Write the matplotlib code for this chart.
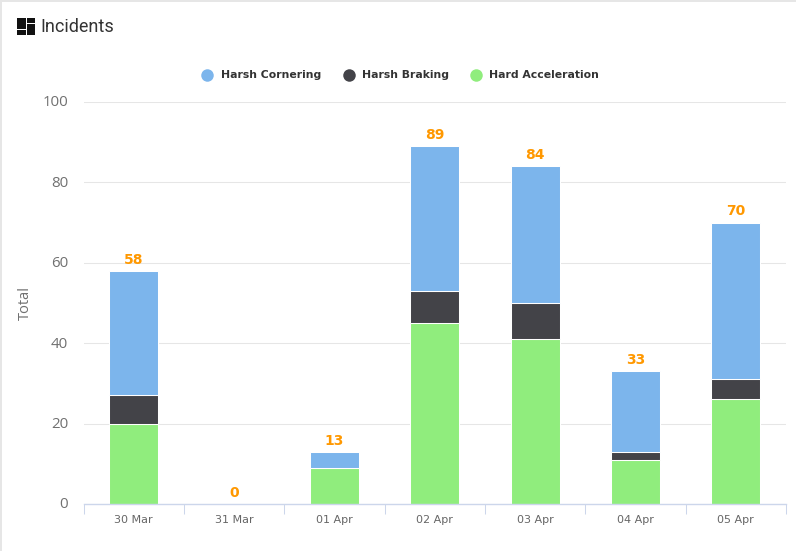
import matplotlib
matplotlib.use("Agg")
import matplotlib.pyplot as plt
import numpy as np
from matplotlib.patches import Rectangle
from matplotlib.transforms import ScaledTranslation

days = ["30 Mar", "31 Mar", "01 Apr", "02 Apr", "03 Apr", "04 Apr", "05 Apr"]
hard_acceleration = [20, 0, 9, 45, 41, 11, 26]
harsh_braking = [7, 0, 0, 8, 9, 2, 5]
harsh_cornering = [31, 0, 4, 36, 34, 20, 39]
totals = [58, 0, 13, 89, 84, 33, 70]
y_ticks = [0, 20, 40, 60, 80, 100]

GREEN = "#90ED7D"
DARK = "#434348"
BLUE = "#7CB5EC"
W, H = 796, 551


def plot_chart():
    fig = plt.figure(figsize=(W / 100, H / 100), dpi=100)
    ax = fig.add_axes([83.5 / W, (H - 504) / H, 702.5 / W, 402 / H])

    x = np.arange(len(days))
    bottom = np.zeros(len(days))
    # stacked from the bottom up, white edge gives the gaps between segments
    for values, color in [(hard_acceleration, GREEN), (harsh_braking, DARK), (harsh_cornering, BLUE)]:
        ax.bar(x, values, width=0.49, bottom=bottom, color=color, edgecolor="white",
               linewidth=0.75, zorder=3)
        bottom += np.array(values)

    for xi, total in zip(x, totals):
        ax.annotate(str(total), (xi, total), xytext=(0, 3), textcoords="offset points",
                    ha="center", va="bottom", color="#FF9800", fontsize=10,
                    fontweight="bold", family="DejaVu Sans", zorder=4)

    ax.set_xlim(-0.5, len(days) - 0.5)
    ax.set_ylim(0, 100)
    ax.set_yticks(y_ticks)
    ax.set_xticks(x)
    ax.set_xticklabels(days, fontsize=8, color="#666666", family="DejaVu Sans")
    ax.set_xticks(np.arange(len(days) + 1) - 0.5, minor=True)
    ax.tick_params(axis="x", which="major", length=0, pad=8)
    ax.tick_params(axis="x", which="minor", length=7, width=0.75, color="#CCD6EB")
    ax.tick_params(axis="y", length=0, pad=11, labelsize=10.8, labelcolor="#707070")
    # nudge the y labels up a pixel
    nudge = ScaledTranslation(0, 1 / 100, fig.dpi_scale_trans)
    for label in ax.get_yticklabels():
        label.set_family("Open Sans")
        label.set_transform(label.get_transform() + nudge)
    ax.grid(axis="y", color="#E6E6E6", linewidth=0.75, zorder=0)
    ax.set_axisbelow(True)
    for side in ["top", "right", "left"]:
        ax.spines[side].set_visible(False)
    ax.spines["bottom"].set_color("#CCD6EB")
    ax.spines["bottom"].set_linewidth(1)
    ax.spines["bottom"].set_zorder(5)

    fig.text(25 / W, 1 - 303.5 / H, "Total", rotation=90, ha="center", va="center",
             fontsize=10.5, color="#707070", family="Open Sans")

    # legend
    legend_items = [("Harsh Cornering", BLUE, 207.5, 221), ("Harsh Braking", DARK, 349, 362.5),
                    ("Hard Acceleration", GREEN, 476, 489.5)]
    for name, color, dot_x, text_x in legend_items:
        fig.add_artist(plt.Line2D([dot_x / W], [1 - 74.5 / H], marker="o", markersize=9,
                                  markeredgewidth=0, color=color, linestyle="none"))
        fig.text(text_x / W, 1 - 74.5 / H, name, ha="left", va="center", fontsize=7.85,
                 fontweight="bold", color="#333333", family="DejaVu Sans")

    # title and its dashboard icon
    fig.text(40.5 / W, 1 - 27 / H, "Incidents", ha="left", va="center", fontsize=13,
             color="#333333", family="Roboto")
    for px, py, pw, ph in [(17, 18, 8.5, 10.5), (17, 29.5, 8.5, 5.5), (26.5, 18, 8.5, 5), (26.5, 24, 8.5, 11)]:
        fig.add_artist(Rectangle((px / W, 1 - (py + ph) / H), pw / W, ph / H,
                                 transform=fig.transFigure, color="#111111", linewidth=0))

    # card border on the left and top
    fig.add_artist(Rectangle((0, 0), 1.5 / W, 1, transform=fig.transFigure, color="#E6E6E6", linewidth=0))
    fig.add_artist(Rectangle((0, 1 - 1.5 / H), 1, 1.5 / H, transform=fig.transFigure, color="#E6E6E6", linewidth=0))

    plt.savefig("out.png", dpi=100)
    plt.close()


if __name__ == "__main__":
    plot_chart()
